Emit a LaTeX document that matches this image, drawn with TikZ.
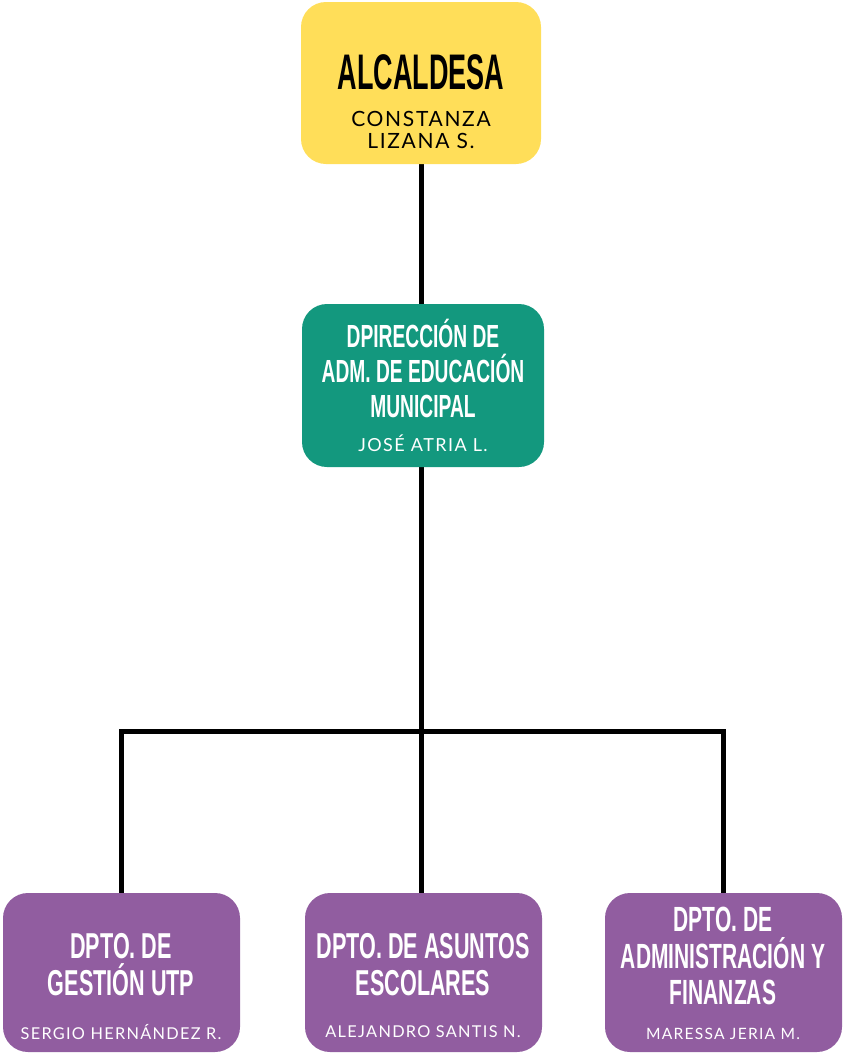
\documentclass[tikz,border=0pt]{standalone}
\usepackage{fontspec}
\usetikzlibrary{backgrounds}
\newfontfamily\headfont[FakeStretch=0.6]{Liberation Sans}
\newfontfamily\namefont[LetterSpace=8]{Lato}
\definecolor{yellowc}{RGB}{255,222,89}
\definecolor{greenc}{RGB}{19,152,126}
\definecolor{purplec}{RGB}{145,93,160}
\tikzset{
  box/.style={rectangle, rounded corners=25pt, draw=none, minimum width=238pt, minimum height=160pt, inner sep=0pt},
  link/.style={line width=5pt, draw=black},
  head/.style={align=center, inner sep=0pt},
  who/.style={inner sep=0pt, font={\namefont\fontsize{#1}{#1}\selectfont}},
}
\begin{document}
\begin{tikzpicture}[x=1pt,y=-1pt]
\useasboundingbox (0,0) rectangle (843,1055);
% boxes
\node[box, fill=yellowc, minimum width=240pt, minimum height=162pt] (alc) at (421,83) {};
\node[box, fill=greenc, minimum width=242pt, minimum height=163pt] (dir) at (423,385.5) {};
\node[box, fill=purplec, minimum width=237pt, minimum height=159pt] (d1) at (121.5,972.5) {};
\node[box, fill=purplec, minimum width=237pt, minimum height=159pt] (d2) at (423.5,972.5) {};
\node[box, fill=purplec, minimum width=237pt, minimum height=159pt] (d3) at (723.5,972.5) {};
% connectors
\coordinate (j) at (421,731);
\begin{scope}[on background layer]
\draw[link] (alc.south -| j) -- (dir.north -| j);
\draw[link] (dir.south -| j) -- (j);
\draw[link] (j) -- (d2.north -| j);
\draw[link] (d1.north -| 121,0) -- (121,731) -- (723,731) -- (d3.north -| 723,0);
\end{scope}
% texts
\node[head, text=black, font={\headfont\bfseries\fontsize{50}{50}\selectfont}] (t0) at (421,72.5) {\scalebox{0.9}[1]{ALCALDESA}};
\node[who=21, text=black, align=center] (n0) at (421,130) {CONSTANZA\\[1pt] LIZANA S.};
\node[head, text=white, font={\headfont\bfseries\fontsize{32}{35}\selectfont}] (t1) at (423,368) {DPIRECCIÓN DE\\ADM. DE EDUCACIÓN\\MUNICIPAL};
\node[who=18, text=white] (n1) at (423,443.5) {JOSÉ ATRIA L.};
\node[head, text=white, font={\headfont\bfseries\fontsize{36}{37}\selectfont}] (t2) at (121,965) {DPTO. DE\\GESTIÓN UTP};
\node[who=16.3, text=white] (n2) at (121,1032) {SERGIO HERNÁNDEZ R.};
\node[head, text=white, font={\headfont\bfseries\fontsize{36}{37}\selectfont}] (t3) at (423,965) {DPTO. DE ASUNTOS\\ESCOLARES};
\node[who=16.3, text=white] (n3) at (423,1032) {ALEJANDRO SANTIS N.};
\node[head, text=white, font={\headfont\bfseries\fontsize{35}{36.5}\selectfont}] (t4) at (723,956) {DPTO. DE\\ADMINISTRACIÓN Y\\FINANZAS};
\node[who=15.6, text=white] (n4) at (723,1034) {MARESSA JERIA M.};
\end{tikzpicture}
\end{document}
